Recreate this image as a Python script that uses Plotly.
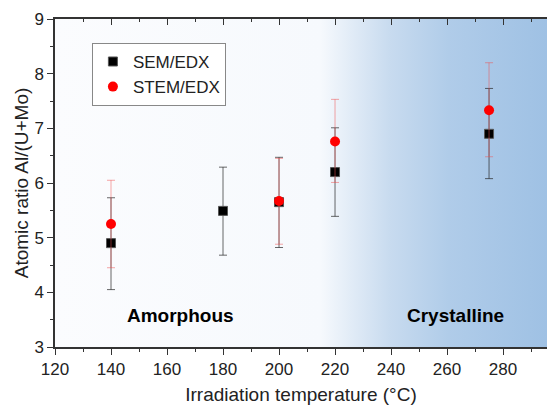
import plotly.graph_objects as go

# Data
sem_x = [140, 180, 200, 220, 275]
sem_y = [4.90, 5.49, 5.65, 6.20, 6.90]
sem_lo = [4.05, 4.68, 4.82, 5.39, 6.08]
sem_hi = [5.73, 6.29, 6.47, 7.01, 7.73]

stem_x = [140, 200, 220, 275]
stem_y = [5.25, 5.67, 6.76, 7.33]
stem_lo = [4.45, 4.88, 6.01, 6.48]
stem_hi = [6.05, 6.45, 7.53, 8.20]

x_range = [120, 295.7]
y_range = [3, 9]

fig = go.Figure()

# gradient background (amorphous -> crystalline)
fig.add_trace(go.Scatter(
    x=[x_range[0], x_range[1], x_range[1], x_range[0], x_range[0]],
    y=[y_range[0], y_range[0], y_range[1], y_range[1], y_range[0]],
    mode="none", fill="toself", showlegend=False, hoverinfo="skip",
    fillgradient=dict(
        type="horizontal", start=x_range[0], stop=x_range[1],
        colorscale=[
            [0.0, "#fbfcfe"],
            [0.54, "#f6f9fd"],
            [0.60, "#e2ecf7"],
            [0.68, "#c8dbef"],
            [0.80, "#b0cce9"],
            [1.0, "#9fc1e4"],
        ],
    ),
))

fig.add_trace(go.Scatter(
    x=sem_x, y=sem_y, mode="markers", name="SEM/EDX",
    marker=dict(symbol="square", size=9, color="black",
                line=dict(color="#555555", width=1)),
    error_y=dict(type="data", symmetric=False,
                 array=[h - v for h, v in zip(sem_hi, sem_y)],
                 arrayminus=[v - l for l, v in zip(sem_lo, sem_y)],
                 color="rgba(40,40,40,0.7)", thickness=1, width=4),
))

fig.add_trace(go.Scatter(
    x=stem_x, y=stem_y, mode="markers", name="STEM/EDX",
    marker=dict(symbol="circle", size=10, color="#ff0000"),
    error_y=dict(type="data", symmetric=False,
                 array=[h - v for h, v in zip(stem_hi, stem_y)],
                 arrayminus=[v - l for l, v in zip(stem_lo, stem_y)],
                 color="rgba(240,80,80,0.5)", thickness=1, width=4),
))

# dummy trace on top axis for inward top ticks
fig.add_trace(go.Scatter(x=[None], y=[None], xaxis="x2", showlegend=False, hoverinfo="skip"))

fig.add_annotation(x=164.8, y=3.57, text="<b>Amorphous</b>", showarrow=False,
                   font=dict(size=19, color="black"))
fig.add_annotation(x=263.0, y=3.57, text="<b>Crystalline</b>", showarrow=False,
                   font=dict(size=19, color="black"))

axis_line = "#333333"
fig.update_layout(
    width=547, height=405,
    margin=dict(l=55, r=0, t=19, b=58),
    paper_bgcolor="white", plot_bgcolor="white",
    font=dict(family="Liberation Sans, Arial, sans-serif", color="#222222"),
    xaxis=dict(
        range=x_range, tickmode="linear", tick0=120, dtick=20,
        ticks="outside", ticklen=6, tickwidth=1.3, tickcolor=axis_line,
        minor=dict(dtick=10, ticks="outside", ticklen=3, tickwidth=1.3, tickcolor=axis_line),
        showline=True, linecolor=axis_line, linewidth=1.5, showgrid=False, zeroline=False,
        tickfont=dict(size=17),
        title=dict(text="Irradiation temperature (°C)", font=dict(size=19), standoff=12),
    ),
    xaxis2=dict(
        range=x_range, overlaying="x", side="top", tickmode="linear", tick0=120, dtick=20,
        ticks="inside", ticklen=6, tickwidth=1.3, tickcolor=axis_line,
        minor=dict(dtick=10, ticks="inside", ticklen=3, tickwidth=1.3, tickcolor=axis_line),
        showline=True, linecolor=axis_line, linewidth=1.5, showgrid=False, zeroline=False,
        showticklabels=False,
    ),
    yaxis=dict(
        range=y_range, tickmode="linear", tick0=3, dtick=1,
        ticks="outside", ticklen=6, tickwidth=1.3, tickcolor=axis_line,
        minor=dict(dtick=0.5, ticks="outside", ticklen=3, tickwidth=1.3, tickcolor=axis_line),
        showline=True, linecolor=axis_line, linewidth=1.5, showgrid=False, zeroline=False,
        tickfont=dict(size=17),
        title=dict(text="Atomic ratio Al/(U+Mo)", font=dict(size=19), standoff=1),
    ),
    legend=dict(
        x=0.075, y=0.927, xanchor="left", yanchor="top",
        bgcolor="white", bordercolor="#888888", borderwidth=1,
        font=dict(size=17, color="#222222"),
        tracegroupgap=0,
    ),
    showlegend=True,
)

fig.write_html("out.html")
